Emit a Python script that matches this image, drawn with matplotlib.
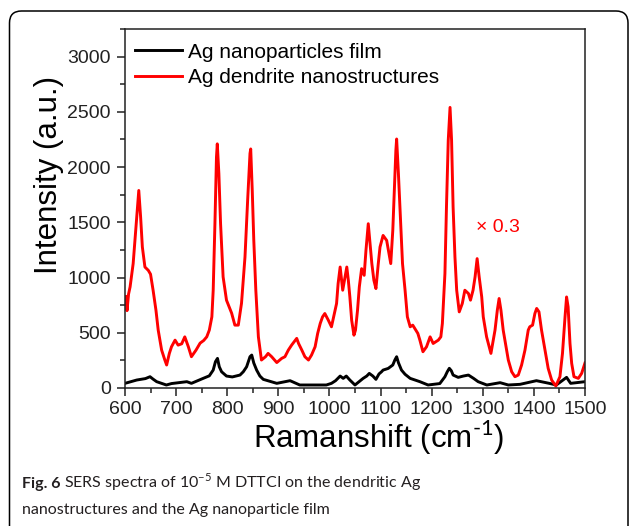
import matplotlib
matplotlib.use('Agg')
import matplotlib.pyplot as plt
from matplotlib.patches import FancyBboxPatch
from matplotlib.ticker import MultipleLocator

### Raman shift (cm-1) / intensity
dendrite_x = [600, 602, 604, 607, 610, 616, 623, 627, 630.6, 634, 639, 645.6, 650, 655,
              660.6, 665, 671.7, 678, 681.5, 686.8, 691, 698, 704, 711, 717, 724, 730,
              739, 747, 754, 760, 765, 770, 772.6, 776, 779, 780.6, 783.7, 787, 792,
              798.6, 808.7, 815, 821.7, 828, 834.8, 840, 844.6, 846, 849, 852, 856, 861,
              867, 875, 880, 887, 897, 906.6, 913, 919.6, 926, 931, 936, 939.6, 946,
              952, 959, 965, 972, 977, 982, 986.6, 991, 997.8, 1004, 1014, 1017, 1021,
              1026, 1034, 1037, 1040, 1043.5, 1048, 1051, 1055, 1058.5, 1063, 1068,
              1071.5, 1076, 1079, 1083, 1087, 1091, 1095.6, 1099, 1105, 1112, 1116.5,
              1120, 1124, 1127, 1130, 1131.5, 1135, 1139.5, 1143, 1148, 1152.5, 1158,
              1163, 1167, 1173, 1177, 1183, 1190, 1197, 1203, 1213, 1218, 1221, 1226,
              1229, 1232.5, 1236, 1239, 1242, 1245.6, 1249, 1254, 1260, 1265, 1272,
              1276, 1281, 1285, 1289, 1293, 1298, 1301, 1307.5, 1316, 1324, 1328.5,
              1332, 1335.6, 1340, 1345.5, 1350, 1356.6, 1363, 1369.5, 1376, 1382.6,
              1389, 1392, 1397.5, 1402, 1405.5, 1410, 1415, 1421.7, 1428, 1434.8, 1443,
              1451, 1456, 1461, 1464, 1467, 1470.7, 1474, 1478.5, 1487, 1493.5, 1500]
dendrite_y = [760, 830, 700, 850, 915, 1126, 1547, 1788, 1547, 1276, 1095, 1065, 1030, 885,
              704, 524, 343, 253, 208, 313, 373, 433, 388, 400, 463, 373, 283,
              343, 406, 430, 463, 524, 644, 885, 1490, 2090, 2210, 1940, 1490, 1006,
              795, 677, 569, 569, 767, 1186, 1700, 2123, 2164, 1790, 1340, 885, 463,
              253, 283, 313, 283, 230, 268, 283, 343, 388, 418, 449, 403, 343,
              283, 253, 298, 373, 494, 584, 644, 674, 614, 554, 765, 945, 1095,
              885, 1095, 975, 824, 614, 478, 524, 704, 915, 1080, 1020,
              1246, 1487, 1336, 1126, 975, 900, 1126, 1276, 1381, 1336, 1218,
              1126, 1427, 1790, 2150, 2254, 1940, 1490, 1126, 885, 644, 554,
              569, 539, 494, 433, 328, 373, 463, 403, 433, 463, 584, 1036,
              1637, 2243, 2540, 2243, 1637, 1186, 885, 689, 765, 885, 855,
              795, 885, 1006, 1171, 1006, 824, 644, 463, 313, 524, 704,
              810, 704, 524, 373, 253, 147, 102, 117, 208, 343,
              524, 554, 569, 674, 720, 689, 524, 343, 178, 72, 18,
              102, 313, 644, 824, 734, 403, 223, 102, 87, 132, 226]

film_x = [600, 610, 623, 640, 649, 655, 662, 681, 691, 721, 730, 753, 765, 772.6, 777,
          781, 784.5, 789, 798.6, 810, 825, 831.5, 838, 844.6, 848, 852, 857.6, 864,
          870.6, 897, 923, 942, 994, 1004, 1012, 1021, 1027, 1033, 1040, 1050, 1058,
          1066, 1073, 1078, 1085, 1091, 1097, 1102, 1105, 1115, 1124, 1128, 1131.5,
          1135, 1141, 1148, 1158, 1177, 1193, 1216, 1226, 1230.6, 1234.6, 1238.5,
          1242, 1252, 1262, 1272, 1282, 1291, 1308, 1334, 1350, 1373, 1405, 1430,
          1444, 1464, 1472, 1500]
film_y = [42, 55, 72, 85, 102, 80, 57, 27, 40, 57, 42, 87, 110, 162, 238,
          268, 192, 147, 108, 100, 117, 147, 192, 283, 298, 226, 162, 108,
          78, 42, 66, 27, 27, 42, 66, 108, 87, 108, 72, 27, 57,
          87, 108, 132, 108, 78, 127, 147, 162, 177, 208, 253, 283,
          229, 162, 124, 87, 57, 27, 40, 102, 147, 178, 156,
          117, 96, 108, 117, 87, 57, 27, 48, 27, 33, 66, 42,
          27, 96, 42, 57]

legend_labels = ['Ag nanoparticles film', 'Ag dendrite nanostructures']

plt.rcParams['font.family'] = ['Liberation Sans', 'DejaVu Sans']
plt.rcParams['mathtext.fontset'] = 'custom'
plt.rcParams['mathtext.rm'] = 'Lato'
plt.rcParams['mathtext.bf'] = 'Lato:bold'

W, H = 629, 526
fig = plt.figure(figsize=(W / 100.0, H / 100.0), dpi=100)
ax = fig.add_axes([0.1987, 0.2624, 0.7313, 0.6825])

ax.plot(film_x, film_y, color='black', lw=2.1, label=legend_labels[0])
ax.plot(dendrite_x, dendrite_y, color='#ff0000', lw=2.1, label=legend_labels[1])

ax.set_xlim(600, 1500)
ax.set_ylim(0, 3250)
ax.xaxis.set_major_locator(MultipleLocator(100))
ax.xaxis.set_minor_locator(MultipleLocator(50))
ax.yaxis.set_major_locator(MultipleLocator(500))
ax.yaxis.set_minor_locator(MultipleLocator(250))
ax.tick_params(which='both', direction='out', top=False, right=False, width=1.1,
               labelsize=14, colors='#222222')
ax.tick_params(which='major', length=5.8)
ax.tick_params(which='minor', length=3.6)
ax.tick_params(axis='y', pad=4.3)
ax.tick_params(axis='x', pad=3.6)
for sp in ax.spines.values():
    sp.set_linewidth(1.1)
    sp.set_color('#222222')

ax.set_xlabel(r'Ramanshift (cm$^{\text{-1}}$)', fontsize=22.5)
ax.xaxis.set_label_coords(0.552, -0.085)
ax.set_ylabel('Intensity (a.u.)', fontsize=22.5)
ax.yaxis.set_label_coords(-0.133, 0.593)

ax.legend(loc='upper left', bbox_to_anchor=(0.0217, 0.962), frameon=False,
          fontsize=15, handlelength=2.26, handletextpad=0.29, labelspacing=0.3,
          borderaxespad=0, borderpad=0)

ax.text(1287, 1454, '\u00d7 0.3', color='#ff0000', fontsize=14, va='center', ha='left')

# caption under the chart: bold "Fig. 6" then the rest right after it
cap_color = '#231f20'
cap_size = 11.5
line1_y = 1 - 488.0 / H
line2_y = 1 - 514.0 / H
t_fig = fig.text(22.0 / W, line1_y, 'Fig. 6', family='Lato', weight='bold',
                 fontsize=cap_size, color=cap_color, va='baseline')
fig.canvas.draw()
bb = t_fig.get_window_extent()
fig.text((bb.x1 + 4) / W, line1_y,
         'SERS spectra of 10$^{-5}$ M DTTCI on the dendritic Ag',
         family='Lato', fontsize=cap_size, color=cap_color, va='baseline')
fig.text(22.0 / W, line2_y, 'nanostructures and the Ag nanoparticle film',
         family='Lato', fontsize=cap_size, color=cap_color, va='baseline')

# rounded frame round the figure, in pixels
frame = FancyBboxPatch((9.5, -20), 618.5, H - 11 + 20,
                       boxstyle='round,pad=0,rounding_size=12',
                       transform=None, fill=False, edgecolor='black', lw=1.1)
fig.add_artist(frame)

fig.savefig('out.png', dpi=100)
